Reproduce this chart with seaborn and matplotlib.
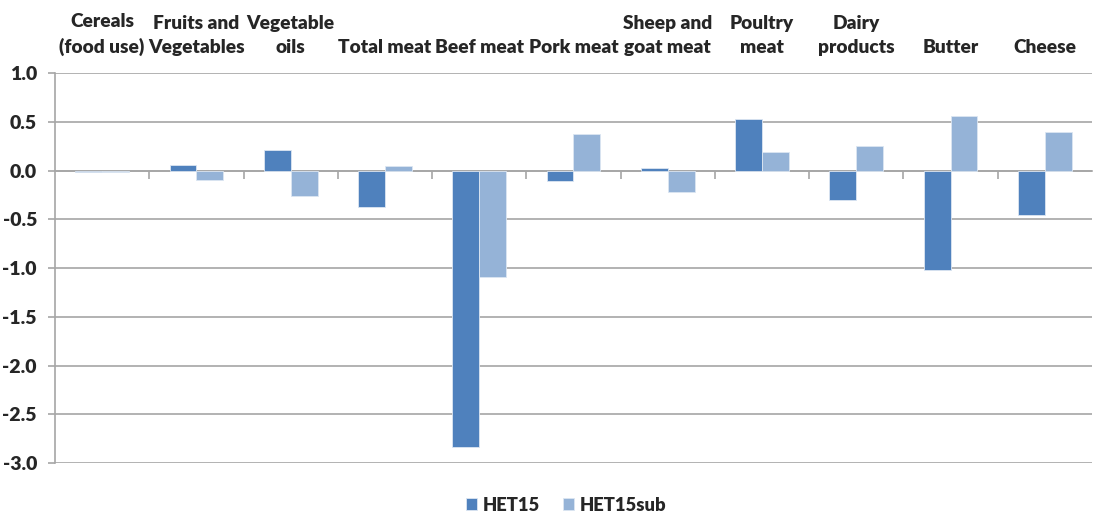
import matplotlib
matplotlib.use("Agg")
import matplotlib.pyplot as plt
import seaborn as sns
import pandas as pd
import numpy as np

categories = ["Cereals\n(food use)", "Fruits and\nVegetables", "Vegetable\noils",
              "Total meat", "Beef meat", "Pork meat", "Sheep and\ngoat meat",
              "Poultry\nmeat", "Dairy\nproducts", "Butter", "Cheese"]
het15 = [-0.01, 0.055, 0.215, -0.375, -2.84, -0.105, 0.024, 0.53, -0.30, -1.02, -0.455]
het15sub = [-0.01, -0.10, -0.265, 0.048, -1.09, 0.38, -0.218, 0.188, 0.25, 0.556, 0.397]
series = ["HET15", "HET15sub"]
colors = ["#4F81BD", "#95B3D7"]

df = pd.DataFrame({
    "category": categories * 2,
    "value": het15 + het15sub,
    "series": [series[0]] * len(categories) + [series[1]] * len(categories),
})

sns.set_style("white")
plt.rcParams["font.family"] = ["Lato", "DejaVu Sans"]
plt.rcParams["font.weight"] = "bold"

fig = plt.figure(figsize=(10.97, 5.15), dpi=100)
ax = fig.add_axes([0.0501, 0.101, 0.9453, 0.757])

sns.barplot(data=df, x="category", y="value", hue="series", palette=colors,
            saturation=1, width=0.57, errorbar=None, edgecolor="#dce6f2",
            linewidth=0.6, ax=ax, zorder=3)

grid_c = "#a6a6a6"
ax.set_ylim(-3.0, 1.0)
ax.set_xlim(-0.5, len(categories) - 0.5)
ax.set_yticks(np.arange(-3.0, 1.01, 0.5))
ax.set_yticklabels([f"{v:.1f}" for v in np.arange(-3.0, 1.01, 0.5)])
ax.yaxis.grid(True, color=grid_c, linewidth=1.2, zorder=0)
ax.set_axisbelow(True)

ax.spines["top"].set_visible(False)
ax.spines["right"].set_visible(False)
ax.spines["left"].set_color(grid_c)
ax.spines["left"].set_linewidth(1.2)
ax.spines["bottom"].set_position(("data", 0))
ax.spines["bottom"].set_color(grid_c)
ax.spines["bottom"].set_linewidth(1.2)
ax.spines["bottom"].set_zorder(1)

ax.set_xticks(np.arange(0.5, len(categories) - 1, 1.0), minor=True)
ax.tick_params(axis="x", which="major", bottom=False, top=False,
               labelbottom=False, labeltop=True, labelsize=13.8, pad=9)
ax.tick_params(axis="x", which="minor", bottom=True, length=6, width=1.2,
               color=grid_c, direction="out")
ax.tick_params(axis="y", left=True, length=5, width=1.2, color=grid_c,
               labelsize=14, pad=8)
for lab in ax.get_xticklabels():
    lab.set_linespacing(1.5)
    lab.set_fontweight("heavy")
for lab in ax.get_yticklabels():
    lab.set_fontweight("heavy")

ax.set_xlabel("")
ax.set_ylabel("")

handles, labels = ax.get_legend_handles_labels()
ax.legend(handles, labels, loc="center", bbox_to_anchor=(0.493, -0.108),
          ncol=2, frameon=False, handlelength=0.6, handleheight=0.6,
          handletextpad=0.3, columnspacing=1.3, borderpad=0.1,
          prop={"size": 13.2, "weight": "heavy"})

fig.savefig("out.png", dpi=100)
